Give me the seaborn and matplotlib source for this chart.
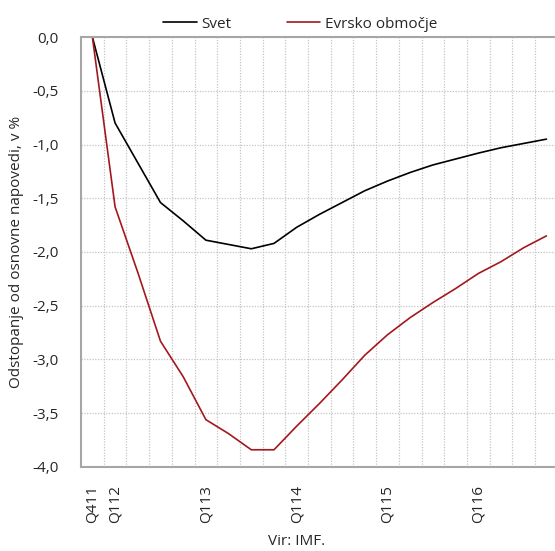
import pandas as pd
import matplotlib
matplotlib.use("Agg")
import matplotlib.pyplot as plt
import seaborn as sns

# četrtletja Q411 .. Q416
quarters = ['Q411',
            'Q112', 'Q212', 'Q312', 'Q412',
            'Q113', 'Q213', 'Q313', 'Q413',
            'Q114', 'Q214', 'Q314', 'Q414',
            'Q115', 'Q215', 'Q315', 'Q415',
            'Q116', 'Q216', 'Q316', 'Q416']

svet = [0.0, -0.80, -1.17, -1.54, -1.71, -1.89, -1.93, -1.97, -1.92,
        -1.77, -1.65, -1.54, -1.43, -1.34, -1.26, -1.19, -1.135,
        -1.08, -1.03, -0.99, -0.95]

evro = [0.0, -1.58, -2.19, -2.83, -3.16, -3.56, -3.69, -3.84, -3.84,
        -3.62, -3.41, -3.19, -2.96, -2.77, -2.61, -2.47, -2.34,
        -2.20, -2.09, -1.96, -1.85]

shown_labels = ['Q411', 'Q112', 'Q113', 'Q114', 'Q115', 'Q116']
series_names = ['Svet', 'Evrsko območje']
colors = ['#000000', '#a3181e']

df = pd.DataFrame({
    'idx': list(range(len(quarters))) * 2,
    'vrednost': svet + evro,
    'serija': [series_names[0]] * len(quarters) + [series_names[1]] * len(quarters),
})

sns.set_style("white")
plt.rcParams['font.family'] = ['Open Sans', 'DejaVu Sans']
fs = 11

fig = plt.figure(figsize=(5.55, 5.51), dpi=100)
ax = fig.add_axes([0.146, 0.1525, 0.859, 0.7803])

sns.lineplot(data=df, x='idx', y='vrednost', hue='serija',
             palette=dict(zip(series_names, colors)), linewidth=1.2, ax=ax)

ax.set_xlim(-0.5, len(quarters) - 0.5)
ax.set_ylim(-4.0, 0.0)

# mreža
grid_col = '#c4c4c4'
yt = [-4.0, -3.5, -3.0, -2.5, -2.0, -1.5, -1.0, -0.5, 0.0]
ax.set_yticks(yt)
ax.set_yticklabels([f"{v:.1f}".replace('.', ',') for v in yt], fontsize=fs)
for v in yt[1:-1]:
    ax.axhline(v, color=grid_col, linestyle=(0, (1.0, 1.2)), linewidth=0.9, zorder=0)
for i in range(len(quarters) - 1):
    ax.axvline(i + 0.5, color=grid_col, linestyle=(0, (1.0, 1.2)), linewidth=0.9, zorder=0)

pos = [quarters.index(q) for q in shown_labels]
ax.set_xticks(pos)
ax.set_xticklabels(shown_labels, rotation=90, fontsize=fs)
ax.tick_params(axis='y', length=0, pad=16)
ax.tick_params(axis='x', length=0, pad=13)

for s in ['left', 'bottom', 'top']:
    ax.spines[s].set_color('#a6a6a6')
    ax.spines[s].set_linewidth(1.5)
ax.spines['right'].set_visible(False)

ax.set_xlabel('')
ax.set_ylabel('Odstopanje od osnovne napovedi, v %', fontsize=fs, labelpad=6)

ax.legend(loc='lower center', bbox_to_anchor=(0.46, 0.995), ncol=2, frameon=False,
          fontsize=fs, handlelength=2.2, handletextpad=0.3, columnspacing=3.6,
          borderaxespad=0.1)

fig.text(0.535, 0.004, 'Vir: IMF.', ha='center', va='bottom', fontsize=fs)

fig.savefig('out.png', dpi=100)
